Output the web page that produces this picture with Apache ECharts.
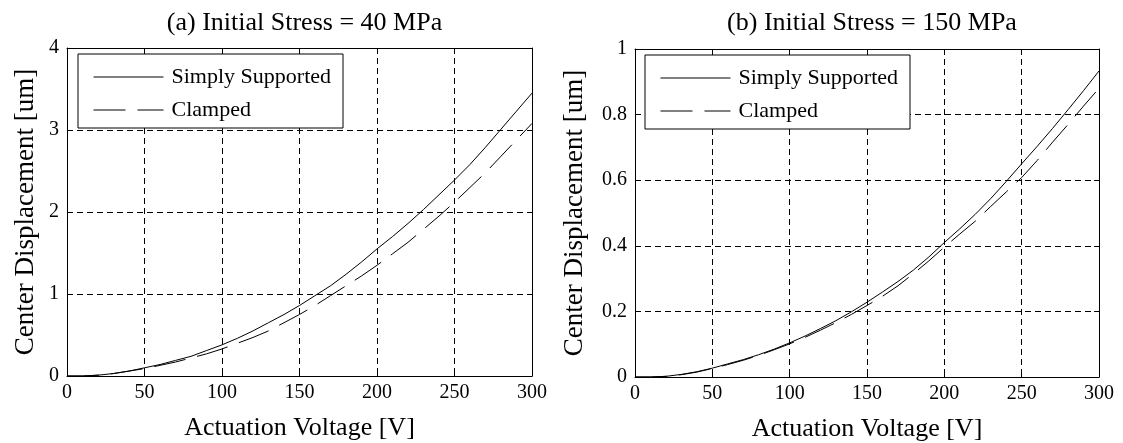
<!DOCTYPE html>
<html>
<head>
<meta charset="utf-8">
<script src="https://cdn.jsdelivr.net/npm/echarts@6/dist/echarts.min.js"></script>
<style>
html,body{margin:0;padding:0;background:#fff;}
#chart{width:1123px;height:443px;}
</style>
</head>
<body>
<div id="chart"></div>
<script>
// Actuation voltage [V]
const voltage = [0,10,20,30,40,50,60,70,80,90,100,110,120,130,140,150,160,170,180,190,200,210,220,230,240,250,260,270,280,290,300];
// (a) Initial Stress = 40 MPa, center displacement [um]
const simplyA = [0,0.00,0.01,0.03,0.06,0.10,0.14,0.19,0.24,0.31,0.38,0.46,0.55,0.65,0.75,0.86,0.98,1.10,1.24,1.39,1.55,1.70,1.86,2.03,2.21,2.39,2.58,2.79,3.01,3.23,3.45];
const clampedA = [0,0.00,0.01,0.03,0.06,0.09,0.13,0.17,0.22,0.27,0.33,0.40,0.47,0.55,0.65,0.75,0.86,0.98,1.10,1.22,1.35,1.49,1.63,1.79,1.95,2.12,2.30,2.48,2.68,2.88,3.08];
// (b) Initial Stress = 150 MPa, center displacement [um]
const simplyB = [0,0,0.002,0.008,0.016,0.027,0.040,0.053,0.068,0.085,0.104,0.125,0.148,0.172,0.199,0.228,0.259,0.291,0.326,0.366,0.410,0.452,0.496,0.544,0.596,0.650,0.703,0.758,0.815,0.873,0.933];
const clampedB = [0,0,0.002,0.007,0.015,0.026,0.038,0.051,0.066,0.083,0.101,0.121,0.143,0.166,0.191,0.218,0.246,0.278,0.315,0.354,0.396,0.436,0.475,0.520,0.564,0.608,0.660,0.716,0.770,0.826,0.880];

const titles = ['(a) Initial Stress = 40 MPa', '(b) Initial Stress = 150 MPa'];
const seriesNames = ['Simply Supported', 'Clamped'];
const xName = 'Actuation Voltage [V]';
const yName = 'Center Displacement [um]';

const FONT = 'Liberation Serif';
const pairs = (xs, ys) => xs.map((x, i) => [x, ys[i]]);

const grids = [
  {left: 67, top: 48, width: 465, height: 328, outerBoundsMode: 'none', containLabel: false},
  {left: 635, top: 49, width: 464, height: 328, outerBoundsMode: 'none', containLabel: false}
];
const yRanges = [{max: 4, interval: 1, gap: 28}, {max: 1, interval: 0.2, gap: 47}];

const xAxes = [], yAxes = [];
grids.forEach((g, gi) => {
  xAxes.push({
    type: 'value', gridIndex: gi, position: 'bottom', min: 0, max: 300, interval: 50,
    name: xName, nameLocation: 'middle', nameGap: 39,
    nameTextStyle: {fontFamily: FONT, fontSize: 26, color: '#000'},
    axisLine: {show: true, lineStyle: {color: '#000', width: 1}},
    axisTick: {show: true, inside: true, length: 5, lineStyle: {color: '#000'}},
    axisLabel: {fontFamily: FONT, fontSize: 20, color: '#000', margin: 7},
    splitLine: {show: true, lineStyle: {color: '#000', width: 1, type: [6, 4]}}
  });
  xAxes.push({
    type: 'value', gridIndex: gi, position: 'top', min: 0, max: 300, interval: 50,
    axisLine: {show: true, onZero: false, lineStyle: {color: '#000', width: 1}},
    axisTick: {show: true, inside: true, length: 5, lineStyle: {color: '#000'}},
    axisLabel: {show: false}, splitLine: {show: false}
  });
  const yr = yRanges[gi];
  yAxes.push({
    type: 'value', gridIndex: gi, position: 'left', min: 0, max: yr.max, interval: yr.interval,
    name: yName, nameLocation: 'middle', nameGap: yr.gap,
    nameTextStyle: {fontFamily: FONT, fontSize: 27, color: '#000'},
    axisLine: {show: true, onZero: false, lineStyle: {color: '#000', width: 1}},
    axisTick: {show: true, inside: true, length: 5, lineStyle: {color: '#000'}},
    axisLabel: {fontFamily: FONT, fontSize: 20, color: '#000', margin: 8},
    splitLine: {show: true, lineStyle: {color: '#000', width: 1, type: [6, 4]}}
  });
  yAxes.push({
    type: 'value', gridIndex: gi, position: 'right', min: 0, max: yr.max, interval: yr.interval,
    axisLine: {show: true, onZero: false, lineStyle: {color: '#000', width: 1}},
    axisTick: {show: true, inside: true, length: 5, lineStyle: {color: '#000'}},
    axisLabel: {show: false}, splitLine: {show: false}
  });
});

const dataSets = [[simplyA, clampedA], [simplyB, clampedB]];
const series = [];
dataSets.forEach((ds, gi) => {
  ds.forEach((vals, si) => {
    series.push({
      type: 'line', name: seriesNames[si],
      xAxisIndex: gi * 2, yAxisIndex: gi * 2,
      data: pairs(voltage, vals),
      showSymbol: false, symbol: 'none',
      lineStyle: {color: '#000', width: 1, type: si === 0 ? 'solid' : [32, 12]},
      itemStyle: {color: '#000'},
      z: 3
    });
  });
});

const legendPos = [{left: 78, top: 54}, {left: 645, top: 55}];
const legends = legendPos.map(p => ({
  left: p.left, top: p.top, orient: 'vertical',
  data: seriesNames, selectedMode: false,
  backgroundColor: '#fff', borderColor: '#000', borderWidth: 1,
  padding: [12, 12, 7, 15], itemGap: 11, itemWidth: 70, itemHeight: 22,
  itemStyle: {color: 'rgba(0,0,0,0)', borderColor: 'rgba(0,0,0,0)', borderWidth: 0, opacity: 0},
  lineStyle: {color: '#000', width: 1, opacity: 1},
  textStyle: {fontFamily: FONT, fontSize: 22, color: '#000', padding: [0, 0, 0, 3]},
  z: 5
}));

const chart = echarts.init(document.getElementById('chart'), null, {renderer: 'canvas'});
chart.setOption({
  animation: false,
  backgroundColor: '#fff',
  title: [
    {text: titles[0], left: 299.5, top: 5, textAlign: 'center', textStyle: {fontFamily: FONT, fontSize: 26, fontWeight: 'normal', color: '#000'}},
    {text: titles[1], left: 867, top: 5, textAlign: 'center', textStyle: {fontFamily: FONT, fontSize: 26, fontWeight: 'normal', color: '#000'}}
  ],
  legend: legends,
  grid: grids,
  xAxis: xAxes,
  yAxis: yAxes,
  series: series
});
</script>
</body>
</html>
